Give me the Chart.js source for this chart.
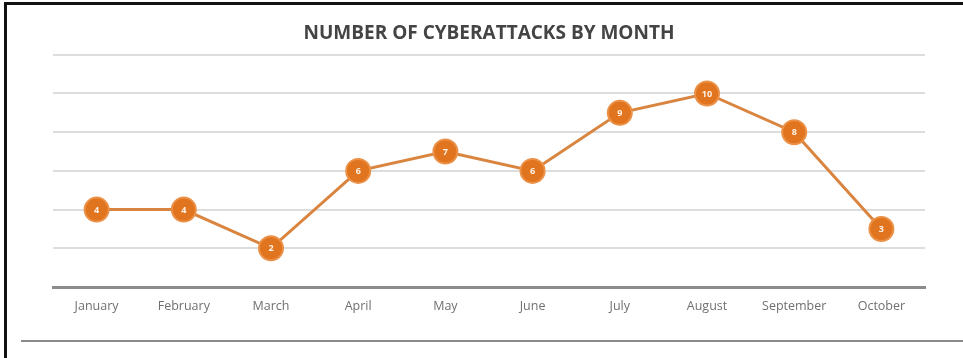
<!DOCTYPE html>
<html>
<head>
<meta charset="utf-8">
<script src="https://cdn.jsdelivr.net/npm/chart.js@4.4.0/dist/chart.umd.min.js"></script>
<style>
  html,body{margin:0;padding:0;background:#fff;}
  #wrap{position:relative;width:963px;height:358px;overflow:hidden;}
  #frame{position:absolute;left:4px;top:2px;width:980px;height:400px;border-top:3px solid #111;border-left:3px solid #111;}
  #bottomLine{position:absolute;left:21px;top:340px;width:960px;height:2px;background:#8a8a8a;}
  canvas{position:absolute;left:0;top:0;}
</style>
</head>
<body>
<div id="wrap">
  <div id="frame"></div>
  <div id="bottomLine"></div>
  <canvas id="c" width="963" height="358"></canvas>
</div>
<script>
const months = ["January","February","March","April","May","June","July","August","September","October"];
const attacks = [4, 4, 2, 6, 7, 6, 9, 10, 8, 3];
const yTicks = [0, 2, 4, 6, 8, 10, 12];
const chartTitle = "NUMBER OF CYBERATTACKS BY MONTH";

const pointLabels = {
  id: 'pointLabels',
  afterDatasetsDraw(chart) {
    const ctx = chart.ctx;
    const meta = chart.getDatasetMeta(0);
    ctx.save();
    ctx.fillStyle = '#fff3e6';
    ctx.font = 'bold 9px "Open Sans", sans-serif';
    ctx.textAlign = 'center';
    ctx.textBaseline = 'middle';
    meta.data.forEach((pt, i) => {
      ctx.fillText(String(chart.data.datasets[0].data[i]), pt.x, pt.y + 0.5);
    });
    ctx.restore();
  }
};

new Chart(document.getElementById('c'), {
  type: 'line',
  data: {
    labels: months,
    datasets: [{
      data: attacks,
      borderColor: '#d9843f',
      borderWidth: 3,
      backgroundColor: '#e0741f',
      pointBackgroundColor: '#e0741f',
      pointBorderColor: '#eb9148',
      pointBorderWidth: 2,
      pointRadius: 12,
      pointHoverRadius: 12,
      tension: 0,
      fill: false
    }]
  },
  options: {
    responsive: false,
    animation: false,
    events: [],
    layout: { padding: { left: 53, right: 38, top: 0, bottom: 32 } },
    plugins: {
      legend: { display: false },
      tooltip: { enabled: false },
      title: {
        display: true,
        text: chartTitle,
        color: '#444444',
        font: { family: '"Open Sans", sans-serif', size: 19, weight: 'bold' },
        padding: { top: 22, bottom: 10 }
      }
    },
    scales: {
      x: {
        offset: true,
        grid: { display: false, drawTicks: false },
        border: { display: true, color: '#8c8c8c', width: 3 },
        ticks: { color: '#707070', font: { family: '"Open Sans", sans-serif', size: 12.5 }, padding: 12, maxRotation: 0, autoSkip: false }
      },
      y: {
        min: yTicks[0],
        max: yTicks[yTicks.length - 1],
        afterBuildTicks(scale) { scale.ticks = yTicks.map(v => ({ value: v })); },
        grid: { color: '#dddddd', lineWidth: 2, drawTicks: false },
        border: { display: false },
        ticks: { display: false }
      }
    }
  },
  plugins: [pointLabels]
});
</script>
</body>
</html>
